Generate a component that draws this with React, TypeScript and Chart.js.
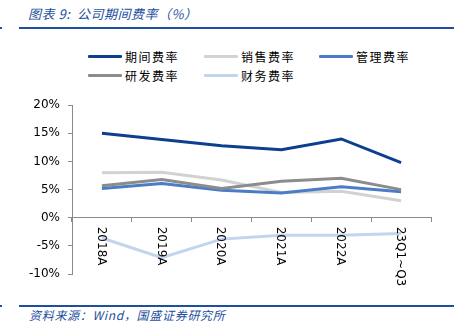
import React, { useEffect, useRef } from "react";
import { Chart, registerables } from "chart.js";

Chart.register(...registerables);

const categories = ["2018A", "2019A", "2020A", "2021A", "2022A", "23Q1~Q3"];
const periodRate = [15.0, 13.9, 12.8, 12.1, 14.0, 9.8];
const salesRate = [8.0, 8.1, 6.7, 4.5, 4.7, 3.0];
const adminRate = [5.2, 6.1, 4.9, 4.4, 5.5, 4.6];
const rdRate = [5.7, 6.8, 5.2, 6.5, 7.0, 5.0];
const financeRate = [-3.6, -7.1, -3.8, -3.1, -3.1, -2.8];
const yTicks = [20, 15, 10, 5, 0, -5, -10];

const seriesNames = ["期间费率", "销售费率", "管理费率", "研发费率", "财务费率"];
const seriesColors = ["#0d3f91", "#d2d2d2", "#4a7dc6", "#8c8c8c", "#c3d4ed"];
const seriesData = [periodRate, salesRate, adminRate, rdRate, financeRate];

const BLUE = "#1d4f9e";
const FONT = "'DejaVu Sans', Verdana, sans-serif";
const CJK = "'Noto Sans CJK SC', sans-serif";

export default function App() {
  const ref = useRef<HTMLCanvasElement | null>(null);

  useEffect(() => {
    document.body.style.margin = "0";
    const ctx = ref.current!;
    const rotatedLabels = {
      id: "rotatedLabels",
      afterDraw(chart: any) {
        const c = chart.ctx;
        const xs = chart.scales.x;
        const ys = chart.scales.y;
        const y0 = ys.getPixelForValue(0);
        c.save();
        c.fillStyle = "#000";
        c.font = `12px ${FONT}`;
        c.textAlign = "left";
        c.textBaseline = "middle";
        categories.forEach((lab, i) => {
          const x = xs.getPixelForValue(i);
          c.save();
          c.translate(x - 1, y0 + 9);
          c.rotate(Math.PI / 2);
          c.fillText(lab, 0, 0);
          c.restore();
        });
        c.restore();
      },
    };
    const chart = new Chart(ctx, {
      type: "line",
      data: {
        labels: categories,
        datasets: seriesData.map((d, i) => ({
          label: seriesNames[i],
          data: d,
          borderColor: seriesColors[i],
          backgroundColor: seriesColors[i],
          borderWidth: 3,
          pointRadius: 0,
          tension: 0,
          order: i === 0 ? 0 : 5 - i,
        })),
      },
      options: {
        animation: false,
        responsive: false,
        maintainAspectRatio: false,
        layout: { padding: { left: 0, right: 32, top: 11, bottom: 21 } },
        plugins: { legend: { display: false }, tooltip: { enabled: false } },
        scales: {
          x: {
            type: "category",
            position: { y: 0 } as any,
            offset: true,
            grid: {
              display: true,
              drawOnChartArea: false,
              drawTicks: true,
              tickLength: 4,
              offset: true,
              color: "#8a8a8a",
            },
            border: { display: true, color: "#8a8a8a", width: 1 },
            ticks: { display: false },
          },
          y: {
            min: -10,
            max: 20,
            afterFit(scale: any) {
              scale.width = 72;
            },
            afterBuildTicks(scale: any) {
              scale.ticks = yTicks.map((v) => ({ value: v }));
            },
            grid: {
              display: true,
              drawOnChartArea: false,
              drawTicks: true,
              tickLength: 4,
              color: "#8a8a8a",
            },
            border: { display: true, color: "#8a8a8a", width: 1 },
            ticks: {
              color: "#000",
              padding: 8,
              font: { family: FONT, size: 12 },
              callback: (v: any) => `${v}%`,
            },
          },
        },
      },
      plugins: [rotatedLabels],
    });
    return () => chart.destroy();
  }, []);

  const legendPos = [
    [88, 56],
    [204, 56],
    [319, 56],
    [88, 75],
    [204, 75],
  ];

  return (
    <div style={{ position: "fixed", left: 0, top: 0, width: 463, height: 333, background: "#fff", overflow: "hidden" }}>
      <div style={{ position: "absolute", left: 28, top: 5, fontFamily: CJK, fontSize: 13, fontStyle: "italic", color: BLUE, whiteSpace: "nowrap", lineHeight: "18px", letterSpacing: 0.5 }}>
        图表 9:&nbsp;&nbsp;公司期间费率（%）
      </div>
      <div style={{ position: "absolute", left: 0, top: 27, width: 2, height: 2, background: BLUE }} />
      <div style={{ position: "absolute", left: 19, top: 27, width: 435, height: 2, background: BLUE }} />
      {seriesNames.map((n, i) => (
        <div key={n} style={{ position: "absolute", left: legendPos[i][0], top: legendPos[i][1] - 9, height: 18, display: "flex", alignItems: "center", whiteSpace: "nowrap" }}>
          <div style={{ width: 34, height: 3, background: seriesColors[i], borderRadius: 1 }} />
          <span style={{ marginLeft: 3, fontFamily: CJK, fontSize: 12, letterSpacing: 1.5, color: "#000" }}>{n}</span>
        </div>
      ))}
      <canvas ref={ref} width={463} height={205} style={{ position: "absolute", left: 0, top: 90, width: 463, height: 205 }} />
      <div style={{ position: "absolute", left: 0, top: 305, width: 2, height: 2, background: BLUE }} />
      <div style={{ position: "absolute", left: 19, top: 305, width: 435, height: 2, background: BLUE }} />
      <div style={{ position: "absolute", left: 29, top: 306, fontFamily: CJK, fontSize: 12, fontStyle: "italic", color: BLUE, whiteSpace: "nowrap", lineHeight: "18px", letterSpacing: 0.7 }}>
        资料来源：Wind，国盛证券研究所
      </div>
    </div>
  );
}
